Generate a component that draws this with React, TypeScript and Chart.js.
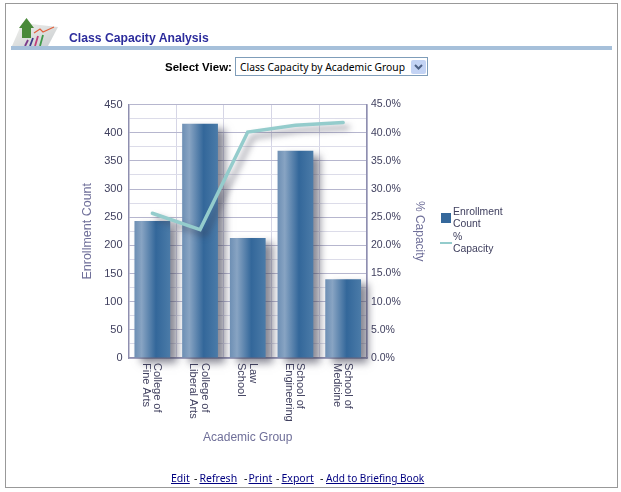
import React, { useEffect, useRef } from "react";
import { Chart, registerables } from "chart.js";

Chart.register(...registerables);

const categories = [
  ["College of", "Fine Arts"],
  ["College of", "Liberal Arts"],
  ["Law", "School"],
  ["School of", "Engineering"],
  ["School of", "Medicine"],
];
const enrollment = [243, 416, 213, 368, 140];
const capacity = [25.7, 22.8, 40.1, 41.3, 41.8];

const SANS = '"Liberation Sans", Arial, sans-serif';
const BAR_RATIO = 0.75;

const shadowPlugin = {
  id: "shadows",
  beforeDatasetDraw(chart: any, args: any) {
    const ctx = chart.ctx;
    ctx.save();
    if (args.index === 0) {
      ctx.shadowColor = "rgba(60,60,80,0.6)";
      ctx.shadowBlur = 8;
      ctx.shadowOffsetX = 7;
      ctx.shadowOffsetY = 5;
    } else {
      ctx.shadowColor = "rgba(60,60,80,0.55)";
      ctx.shadowBlur = 6;
      ctx.shadowOffsetX = 5;
      ctx.shadowOffsetY = 5;
    }
  },
  afterDatasetDraw(chart: any) {
    chart.ctx.restore();
  },
};

function barFill(context: any) {
  const chart = context.chart;
  const xs = chart.scales.x;
  if (!xs || !chart.chartArea) return "#35689b";
  const cx = xs.getPixelForValue(context.dataIndex);
  const half = (xs.width / categories.length) * BAR_RATIO * 0.5;
  const g = chart.ctx.createLinearGradient(cx - half, 0, cx + half, 0);
  g.addColorStop(0, "#6d8fb4");
  g.addColorStop(0.2, "#88a4c3");
  g.addColorStop(0.6, "#33679a");
  g.addColorStop(1, "#4b7ba8");
  return g;
}

function App() {
  const ref = useRef<HTMLCanvasElement | null>(null);

  useEffect(() => {
    if (!ref.current) return;
    const chart = new Chart(ref.current, {
      type: "bar",
      data: {
        labels: categories,
        datasets: [
          {
            type: "bar",
            label: "Enrollment Count",
            data: enrollment,
            yAxisID: "y",
            order: 2,
            clip: false,
            backgroundColor: barFill,
            barPercentage: BAR_RATIO,
            categoryPercentage: 1,
          },
          {
            type: "line",
            label: "% Capacity",
            data: capacity,
            yAxisID: "y1",
            order: 1,
            clip: false,
            borderColor: "#94cccc",
            borderWidth: 3.5,
            pointRadius: 0,
            tension: 0,
            borderCapStyle: "round",
            borderJoinStyle: "miter",
          },
        ],
      },
      options: {
        animation: false,
        responsive: false,
        devicePixelRatio: 1,
        layout: { padding: { left: 80, right: 194, top: 104.5, bottom: 47 } },
        plugins: { legend: { display: false }, tooltip: { enabled: false } },
        scales: {
          x: {
            offset: true,
            beforeUpdate(scale: any) {
              scale._getXAxisLabelAlignment = () => "left";
            },
            afterFit(scale: any) {
              scale.height = 87;
            },
            grid: { color: "#d6d6e6", drawTicks: false, offset: true },
            border: { color: "#8f8fb0", width: 1.5 },
            ticks: {
              autoSkip: false,
              minRotation: -90,
              maxRotation: -90,
              padding: 5,
              labelOffset: 5,
              color: "#40405f",
              font: { family: SANS, size: 11, lineHeight: 1.05 },
            },
            title: {
              display: true,
              text: "Academic Group",
              color: "#6f6f99",
              padding: 0,
              font: { family: SANS, size: 12 },
            },
          },
          y: {
            position: "left",
            min: 0,
            max: 450,
            afterFit(scale: any) {
              scale.width = 48.5;
            },
            grid: {
              color: (c: any) => (c.tick.value % 50 === 0 ? "#b6b6ce" : "#dcdce9"),
              drawTicks: false,
            },
            border: { color: "#8f8fb0", width: 1.5 },
            ticks: {
              stepSize: 25,
              autoSkip: false,
              padding: 6,
              color: "#40405f",
              font: { family: SANS, size: 11 },
              callback: (v: any) => (v % 50 === 0 ? String(v) : ""),
            },
            title: {
              display: true,
              text: "Enrollment Count",
              color: "#6f6f99",
              padding: 0,
              font: { family: SANS, size: 12.5 },
            },
          },
          y1: {
            position: "right",
            min: 0,
            max: 45,
            afterFit(scale: any) {
              scale.width = 60;
            },
            grid: { display: false, drawTicks: false },
            border: { color: "#8f8fb0", width: 1.5 },
            ticks: {
              stepSize: 5,
              padding: 4,
              color: "#40405f",
              font: { family: SANS, size: 10.5 },
              callback: (v: any) => Number(v).toFixed(1) + "%",
            },
            title: {
              display: true,
              text: "% Capacity",
              color: "#6f6f99",
              padding: 0,
              font: { family: SANS, size: 12 },
            },
          },
        },
      },
      plugins: [shadowPlugin],
    } as any);
    return () => chart.destroy();
  }, []);

  const abs = (o: React.CSSProperties): React.CSSProperties => ({ position: "absolute", ...o });
  const footer = (left: number, size: number): React.CSSProperties =>
    abs({
      left,
      top: 471,
      fontFamily: '"Noto Sans", sans-serif',
      fontSize: size,
      lineHeight: "15px",
      whiteSpace: "nowrap",
    });
  const link = (left: number, text: string, size = 10.5) => (
    <span style={{ ...footer(left, size), color: "#000080", textDecoration: "underline" }}>{text}</span>
  );
  const dash = (left: number) => <span style={{ ...footer(left, 10.5), color: "#000" }}>-</span>;

  return (
    <div style={abs({ left: 0, top: 0, width: 621, height: 492, background: "#fff", overflow: "hidden", fontFamily: SANS })}>
      <div style={abs({ left: 5, top: 3, width: 611, height: 483, border: "1px solid #999" })} />
      <canvas ref={ref} width={621} height={492} style={abs({ left: 0, top: 0, display: "block" })} />
      <svg width={50} height={36} style={abs({ left: 11, top: 14 })} viewBox="0 0 50 36">
        <defs>
          <linearGradient id="paper" x1="0" y1="0" x2="1" y2="1">
            <stop offset="0" stopColor="#f2f2ee" />
            <stop offset="1" stopColor="#c9cdd0" />
          </linearGradient>
        </defs>
        <polygon points="11,9 47,13 37,32 1,32" fill="url(#paper)" />
        <polyline points="23,19 29,15 32,18 43,13" fill="none" stroke="#e2603c" strokeWidth="1.2" />
        <g strokeWidth="1.8">
          <line x1="14" y1="32" x2="17" y2="26" stroke="#7a3a8a" />
          <line x1="19" y1="32" x2="22" y2="24" stroke="#3a3a8a" />
          <line x1="24" y1="32" x2="27" y2="22" stroke="#c0407a" />
          <line x1="29" y1="32" x2="32" y2="21" stroke="#3f9a4a" />
        </g>
        <polygon points="15.5,4 23,14 20,14 20,24 11,24 11,14 8,14" fill="#4a8a3a" />
      </svg>
      <div style={abs({ left: 11, top: 46, width: 601, height: 4, background: "#a6c0da" })} />
      <div style={abs({ left: 69, top: 31, fontSize: 12.2, lineHeight: "15px", fontWeight: 700, color: "#2c2c9c", whiteSpace: "nowrap" })}>
        Class Capacity Analysis
      </div>
      <div style={abs({ left: 165, top: 61, fontSize: 11.5, fontWeight: 700, color: "#000", whiteSpace: "nowrap" })}>
        Select View:
      </div>
      <div
        style={abs({
          left: 235,
          top: 57,
          width: 191,
          height: 17,
          border: "1px solid #7f9db9",
          background: "#fff",
          fontFamily: '"Noto Sans", sans-serif',
          fontSize: 10.3,
          lineHeight: "19px",
          color: "#000",
          whiteSpace: "nowrap",
        })}
      >
        <span style={{ marginLeft: 4 }}>Class Capacity by Academic Group</span>
        <div style={abs({ right: 1, top: 2, width: 15, height: 14, background: "#c3d3f4", borderRadius: 2 })}>
          <svg width={15} height={14} style={{ display: "block" }}>
            <polyline points="4,5 7.5,8.5 11,5" fill="none" stroke="#4d6185" strokeWidth="2" />
          </svg>
        </div>
      </div>
      <div style={abs({ left: 441, top: 213, width: 10, height: 10, background: "#35689b" })} />
      <div style={abs({ left: 440, top: 242, width: 12, height: 2, background: "#94cccc" })} />
      <div style={abs({ left: 453, top: 206, fontSize: 10.4, lineHeight: "12px", color: "#40405f" })}>
        Enrollment<br />Count
      </div>
      <div style={abs({ left: 453, top: 231, fontSize: 10.4, lineHeight: "12px", color: "#40405f" })}>
        %<br />Capacity
      </div>
      {link(171, "Edit")}
      {dash(194)}
      {link(199.5, "Refresh")}
      {dash(244)}
      {link(248.5, "Print")}
      {dash(276)}
      {link(281.5, "Export")}
      {dash(320)}
      {link(326, "Add to Briefing Book", 10.1)}
    </div>
  );
}

export default App;
